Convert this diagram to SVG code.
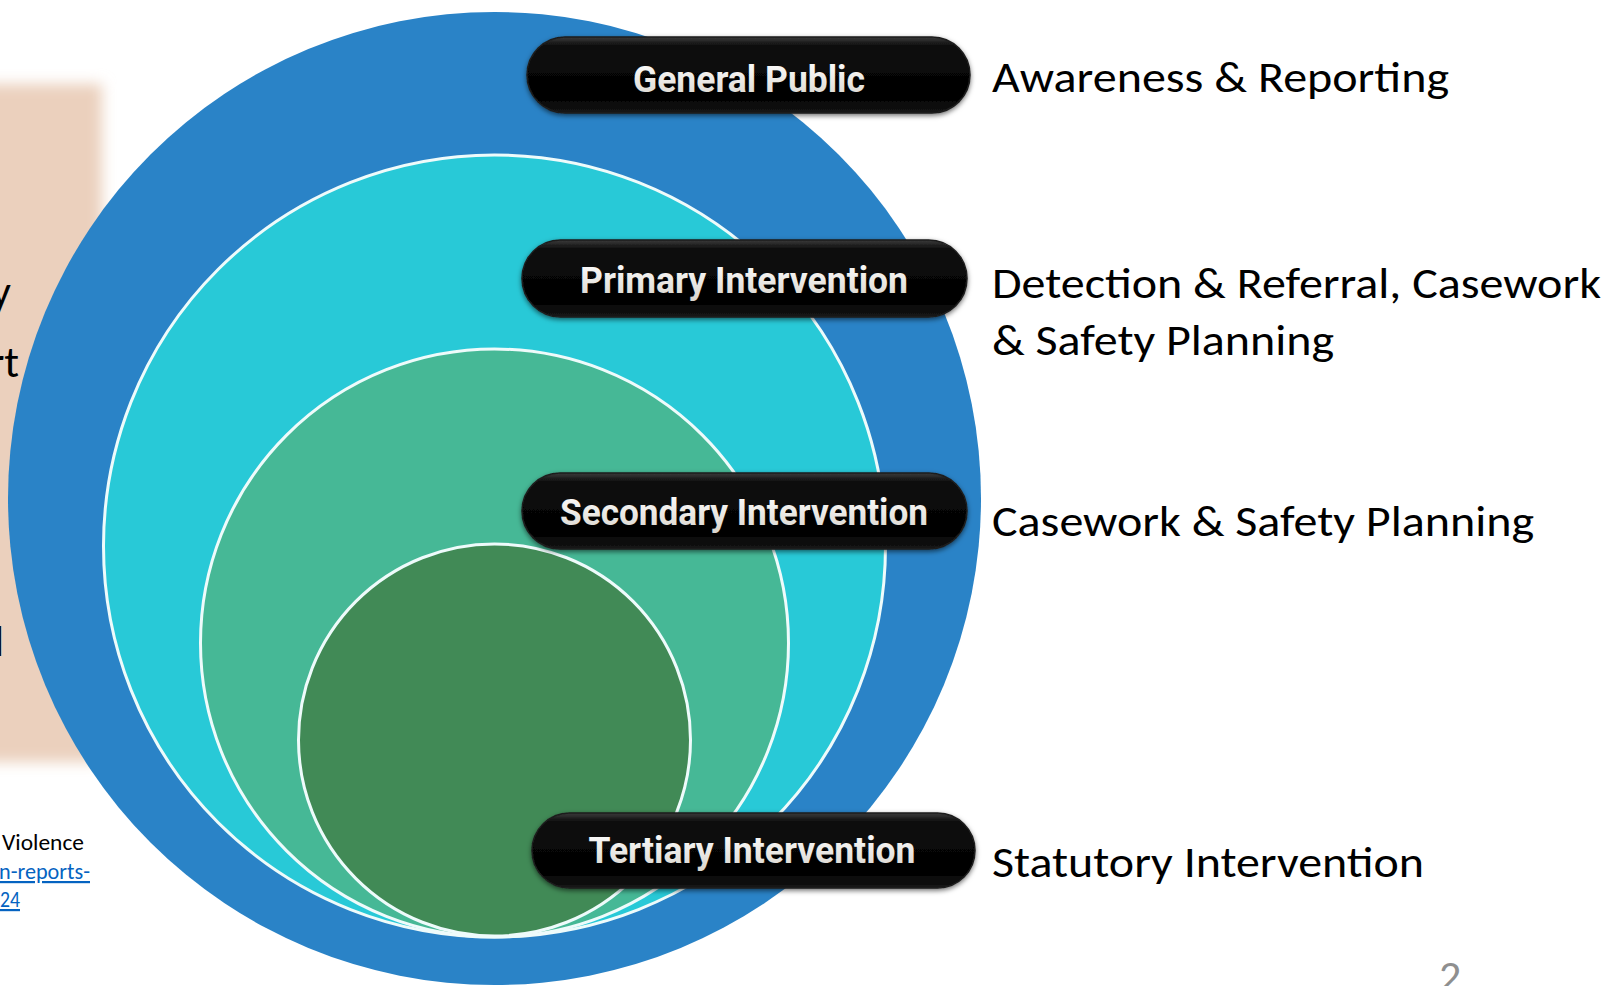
<svg xmlns="http://www.w3.org/2000/svg" width="1611" height="986" viewBox="0 0 1611 986">
  <defs>
    <filter id="soft" x="-20%" y="-20%" width="140%" height="140%">
      <feGaussianBlur stdDeviation="7"/>
    </filter>
    <filter id="pillShadow" x="-10%" y="-30%" width="120%" height="160%">
      <feDropShadow dx="0" dy="2" stdDeviation="2.5" flood-color="#000" flood-opacity="0.55"/>
    </filter>
    <linearGradient id="pillGrad" x1="0" y1="0" x2="0" y2="1">
      <stop offset="0" stop-color="#3b3b3b"/>
      <stop offset="0.12" stop-color="#0c0c0c"/>
      <stop offset="0.8" stop-color="#020202"/>
      <stop offset="1" stop-color="#161616"/>
    </linearGradient>
    <linearGradient id="pillText" x1="0" y1="0" x2="0" y2="1">
      <stop offset="0" stop-color="#ffffff"/>
      <stop offset="1" stop-color="#d8d4cc"/>
    </linearGradient>
    <style>
      .ring { stroke: #eefbfb; stroke-width: 3; }
      .pill { fill: url(#pillGrad); stroke: #1e1e1e; stroke-width: 1.5; filter: url(#pillShadow); }
      .pilltxt { font-family: Roboto, "DejaVu Sans", sans-serif; font-weight: 700; font-size: 36px; fill: url(#pillText); text-anchor: middle; }
      .label { font-family: Calibri, Carlito, "Open Sans", "Noto Sans", sans-serif; font-size: 44px; fill: #000; }
      .side { font-family: Calibri, Carlito, "Open Sans", "Noto Sans", sans-serif; font-size: 44px; fill: #000; text-anchor: end; }
      .note { font-family: Calibri, Carlito, "Open Sans", "Noto Sans", sans-serif; font-size: 22px; }
      .link { fill: #0563c1; text-decoration: underline; }
      .pagenum { font-family: Calibri, Carlito, "Open Sans", sans-serif; font-weight: 300; font-size: 44px; fill: #8f8f8f; }
    </style>
  </defs>

  <rect x="0" y="0" width="1611" height="986" fill="#ffffff"/>

  <!-- background slide remnants on the left -->
  <g id="left-panel">
    <rect x="-30" y="84" width="132" height="678" fill="#ebd0bd" filter="url(#soft)"/>
    <text class="side" x="11" y="306">y</text>
    <text class="side" x="19" y="377">rt</text>
    <text class="side" x="4" y="656">l</text>
  </g>

  <g id="source-note">
    <text class="note" x="2" y="850" fill="#000" textLength="82" lengthAdjust="spacingAndGlyphs">Violence</text>
    <text class="note link" x="-1" y="879" textLength="91" lengthAdjust="spacingAndGlyphs">n-reports-</text>
    <text class="note link" x="0" y="907" textLength="20" lengthAdjust="spacingAndGlyphs">24</text>
  </g>

  <!-- nested circles -->
  <g id="circle-general">
    <circle cx="494.5" cy="498.5" r="486.5" fill="#2a83c7"/>
  </g>
  <g id="circle-primary">
    <circle class="ring" cx="494.5" cy="546" r="391" fill="#28c9d7"/>
  </g>
  <g id="circle-secondary">
    <circle class="ring" cx="494.5" cy="643" r="294" fill="#46b896"/>
  </g>
  <g id="circle-tertiary">
    <circle class="ring" cx="494.5" cy="740" r="196" fill="#418a56"/>
  </g>

  <g id="connectors"></g>

  <!-- pills -->
  <g id="pill-general">
    <rect class="pill" x="527" y="37" width="443" height="76" rx="38"/>
    <text class="pilltxt" x="749" y="92" textLength="232" lengthAdjust="spacingAndGlyphs">General Public</text>
  </g>
  <g id="pill-primary">
    <rect class="pill" x="522" y="240" width="445" height="77" rx="38.5"/>
    <text class="pilltxt" x="744" y="293" textLength="328" lengthAdjust="spacingAndGlyphs">Primary Intervention</text>
  </g>
  <g id="pill-secondary">
    <rect class="pill" x="522" y="473" width="445" height="76" rx="38"/>
    <text class="pilltxt" x="744" y="525" textLength="368" lengthAdjust="spacingAndGlyphs">Secondary Intervention</text>
  </g>
  <g id="pill-tertiary">
    <rect class="pill" x="532" y="813" width="443" height="75" rx="37.5"/>
    <text class="pilltxt" x="752" y="863" textLength="327" lengthAdjust="spacingAndGlyphs">Tertiary Intervention</text>
  </g>

  <!-- right labels -->
  <g id="label-general">
    <text class="label" x="992" y="92" textLength="457" lengthAdjust="spacingAndGlyphs">Awareness &amp; Reporting</text>
  </g>
  <g id="label-primary">
    <text class="label" x="992" y="298" textLength="609" lengthAdjust="spacingAndGlyphs">Detection &amp; Referral, Casework</text>
    <text class="label" x="992" y="355" textLength="342" lengthAdjust="spacingAndGlyphs">&amp; Safety Planning</text>
  </g>
  <g id="label-secondary">
    <text class="label" x="992" y="536" textLength="542" lengthAdjust="spacingAndGlyphs">Casework &amp; Safety Planning</text>
  </g>
  <g id="label-tertiary">
    <text class="label" x="992" y="877" textLength="432" lengthAdjust="spacingAndGlyphs">Statutory Intervention</text>
  </g>

  <g id="page-number">
    <text class="pagenum" x="1439" y="991">2</text>
  </g>
</svg>
